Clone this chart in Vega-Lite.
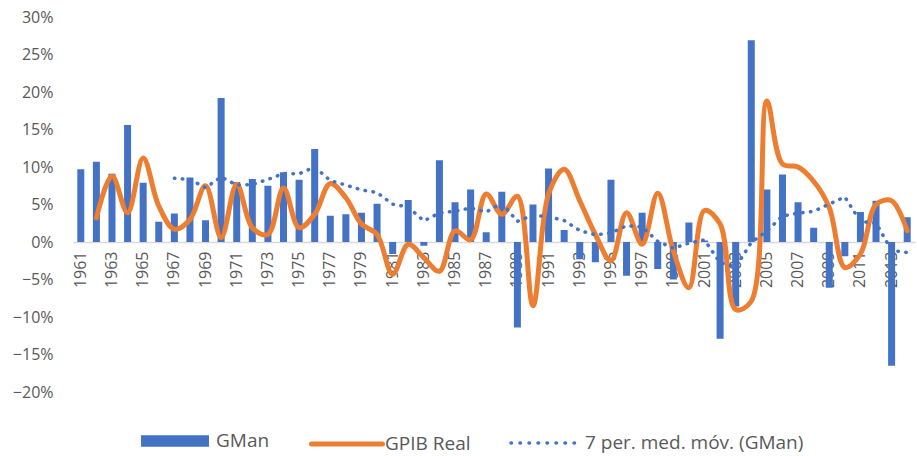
{
  "$schema": "https://vega.github.io/schema/vega-lite/v6.json",
  "width": 842,
  "height": 375,
  "autosize": {"type": "none"},
  "padding": {"left": 73, "top": 17, "right": 2, "bottom": 64},
  "background": "#ffffff",
  "config": {
    "view": {"stroke": null},
    "font": "Open Sans",
    "axis": {"labelFont": "Open Sans", "labelColor": "#595959", "labelFontSize": 16, "grid": false, "ticks": false, "title": null},
    "legend": {"labelFont": "Open Sans", "labelFontSize": 19, "labelColor": "#595959", "labelLimit": 400, "padding": 0, "orient": "none", "direction": "horizontal", "title": null}
  },
  "data": {
    "values": [
      {"year": 1961, "series": "GMan", "value": 0.097},
      {"year": 1962, "series": "GMan", "value": 0.107},
      {"year": 1963, "series": "GMan", "value": 0.091},
      {"year": 1964, "series": "GMan", "value": 0.156},
      {"year": 1965, "series": "GMan", "value": 0.079},
      {"year": 1966, "series": "GMan", "value": 0.027},
      {"year": 1967, "series": "GMan", "value": 0.038},
      {"year": 1968, "series": "GMan", "value": 0.086},
      {"year": 1969, "series": "GMan", "value": 0.029},
      {"year": 1970, "series": "GMan", "value": 0.192},
      {"year": 1971, "series": "GMan", "value": 0.080},
      {"year": 1972, "series": "GMan", "value": 0.084},
      {"year": 1973, "series": "GMan", "value": 0.075},
      {"year": 1974, "series": "GMan", "value": 0.093},
      {"year": 1975, "series": "GMan", "value": 0.083},
      {"year": 1976, "series": "GMan", "value": 0.124},
      {"year": 1977, "series": "GMan", "value": 0.035},
      {"year": 1978, "series": "GMan", "value": 0.037},
      {"year": 1979, "series": "GMan", "value": 0.039},
      {"year": 1980, "series": "GMan", "value": 0.051},
      {"year": 1981, "series": "GMan", "value": -0.016},
      {"year": 1982, "series": "GMan", "value": 0.056},
      {"year": 1983, "series": "GMan", "value": -0.005},
      {"year": 1984, "series": "GMan", "value": 0.109},
      {"year": 1985, "series": "GMan", "value": 0.053},
      {"year": 1986, "series": "GMan", "value": 0.070},
      {"year": 1987, "series": "GMan", "value": 0.013},
      {"year": 1988, "series": "GMan", "value": 0.067},
      {"year": 1989, "series": "GMan", "value": -0.114},
      {"year": 1990, "series": "GMan", "value": 0.050},
      {"year": 1991, "series": "GMan", "value": 0.098},
      {"year": 1992, "series": "GMan", "value": 0.016},
      {"year": 1993, "series": "GMan", "value": -0.023},
      {"year": 1994, "series": "GMan", "value": -0.027},
      {"year": 1995, "series": "GMan", "value": 0.083},
      {"year": 1996, "series": "GMan", "value": -0.045},
      {"year": 1997, "series": "GMan", "value": 0.039},
      {"year": 1998, "series": "GMan", "value": -0.036},
      {"year": 1999, "series": "GMan", "value": -0.050},
      {"year": 2000, "series": "GMan", "value": 0.026},
      {"year": 2001, "series": "GMan", "value": 0.002},
      {"year": 2002, "series": "GMan", "value": -0.129},
      {"year": 2003, "series": "GMan", "value": -0.086},
      {"year": 2004, "series": "GMan", "value": 0.269},
      {"year": 2005, "series": "GMan", "value": 0.070},
      {"year": 2006, "series": "GMan", "value": 0.090},
      {"year": 2007, "series": "GMan", "value": 0.053},
      {"year": 2008, "series": "GMan", "value": 0.019},
      {"year": 2009, "series": "GMan", "value": -0.061},
      {"year": 2010, "series": "GMan", "value": -0.019},
      {"year": 2011, "series": "GMan", "value": 0.040},
      {"year": 2012, "series": "GMan", "value": 0.055},
      {"year": 2013, "series": "GMan", "value": -0.165},
      {"year": 2014, "series": "GMan", "value": 0.033},
      {"year": 1962, "series": "GPIB Real", "value": 0.032},
      {"year": 1963, "series": "GPIB Real", "value": 0.088},
      {"year": 1964, "series": "GPIB Real", "value": 0.039},
      {"year": 1965, "series": "GPIB Real", "value": 0.112},
      {"year": 1966, "series": "GPIB Real", "value": 0.048},
      {"year": 1967, "series": "GPIB Real", "value": 0.017},
      {"year": 1968, "series": "GPIB Real", "value": 0.030},
      {"year": 1969, "series": "GPIB Real", "value": 0.075},
      {"year": 1970, "series": "GPIB Real", "value": 0.006},
      {"year": 1971, "series": "GPIB Real", "value": 0.077},
      {"year": 1972, "series": "GPIB Real", "value": 0.019},
      {"year": 1973, "series": "GPIB Real", "value": 0.010},
      {"year": 1974, "series": "GPIB Real", "value": 0.072},
      {"year": 1975, "series": "GPIB Real", "value": 0.019},
      {"year": 1976, "series": "GPIB Real", "value": 0.037},
      {"year": 1977, "series": "GPIB Real", "value": 0.078},
      {"year": 1978, "series": "GPIB Real", "value": 0.059},
      {"year": 1979, "series": "GPIB Real", "value": 0.024},
      {"year": 1980, "series": "GPIB Real", "value": 0.010},
      {"year": 1981, "series": "GPIB Real", "value": -0.043},
      {"year": 1982, "series": "GPIB Real", "value": -0.003},
      {"year": 1983, "series": "GPIB Real", "value": -0.021},
      {"year": 1984, "series": "GPIB Real", "value": -0.039},
      {"year": 1985, "series": "GPIB Real", "value": 0.015},
      {"year": 1986, "series": "GPIB Real", "value": 0.003},
      {"year": 1987, "series": "GPIB Real", "value": 0.064},
      {"year": 1988, "series": "GPIB Real", "value": 0.037},
      {"year": 1989, "series": "GPIB Real", "value": 0.061},
      {"year": 1990, "series": "GPIB Real", "value": -0.085},
      {"year": 1991, "series": "GPIB Real", "value": 0.064},
      {"year": 1992, "series": "GPIB Real", "value": 0.097},
      {"year": 1993, "series": "GPIB Real", "value": 0.055},
      {"year": 1994, "series": "GPIB Real", "value": 0.010},
      {"year": 1995, "series": "GPIB Real", "value": -0.025},
      {"year": 1996, "series": "GPIB Real", "value": 0.039},
      {"year": 1997, "series": "GPIB Real", "value": -0.003},
      {"year": 1998, "series": "GPIB Real", "value": 0.065},
      {"year": 1999, "series": "GPIB Real", "value": -0.012},
      {"year": 2000, "series": "GPIB Real", "value": -0.061},
      {"year": 2001, "series": "GPIB Real", "value": 0.042},
      {"year": 2002, "series": "GPIB Real", "value": 0.024},
      {"year": 2003, "series": "GPIB Real", "value": -0.090},
      {"year": 2004, "series": "GPIB Real", "value": -0.079},
      {"year": 2005, "series": "GPIB Real", "value": 0.188},
      {"year": 2006, "series": "GPIB Real", "value": 0.104},
      {"year": 2007, "series": "GPIB Real", "value": 0.100},
      {"year": 2008, "series": "GPIB Real", "value": 0.081},
      {"year": 2009, "series": "GPIB Real", "value": 0.046},
      {"year": 2010, "series": "GPIB Real", "value": -0.034},
      {"year": 2011, "series": "GPIB Real", "value": -0.016},
      {"year": 2012, "series": "GPIB Real", "value": 0.050},
      {"year": 2013, "series": "GPIB Real", "value": 0.055},
      {"year": 2014, "series": "GPIB Real", "value": 0.015},
      {"year": 1967, "series": "7 per. med. móv. (GMan)", "value": 0.0850},
      {"year": 1968, "series": "7 per. med. móv. (GMan)", "value": 0.0834},
      {"year": 1969, "series": "7 per. med. móv. (GMan)", "value": 0.0723},
      {"year": 1970, "series": "7 per. med. móv. (GMan)", "value": 0.0867},
      {"year": 1971, "series": "7 per. med. móv. (GMan)", "value": 0.0759},
      {"year": 1972, "series": "7 per. med. móv. (GMan)", "value": 0.0766},
      {"year": 1973, "series": "7 per. med. móv. (GMan)", "value": 0.0834},
      {"year": 1974, "series": "7 per. med. móv. (GMan)", "value": 0.0913},
      {"year": 1975, "series": "7 per. med. móv. (GMan)", "value": 0.0909},
      {"year": 1976, "series": "7 per. med. móv. (GMan)", "value": 0.1000},
      {"year": 1977, "series": "7 per. med. móv. (GMan)", "value": 0.0820},
      {"year": 1978, "series": "7 per. med. móv. (GMan)", "value": 0.0759},
      {"year": 1979, "series": "7 per. med. móv. (GMan)", "value": 0.0694},
      {"year": 1980, "series": "7 per. med. móv. (GMan)", "value": 0.0660},
      {"year": 1981, "series": "7 per. med. móv. (GMan)", "value": 0.0504},
      {"year": 1982, "series": "7 per. med. móv. (GMan)", "value": 0.0466},
      {"year": 1983, "series": "7 per. med. móv. (GMan)", "value": 0.0281},
      {"year": 1984, "series": "7 per. med. móv. (GMan)", "value": 0.0387},
      {"year": 1985, "series": "7 per. med. móv. (GMan)", "value": 0.0410},
      {"year": 1986, "series": "7 per. med. móv. (GMan)", "value": 0.0454},
      {"year": 1987, "series": "7 per. med. móv. (GMan)", "value": 0.0400},
      {"year": 1988, "series": "7 per. med. móv. (GMan)", "value": 0.0519},
      {"year": 1989, "series": "7 per. med. móv. (GMan)", "value": 0.0276},
      {"year": 1990, "series": "7 per. med. móv. (GMan)", "value": 0.0354},
      {"year": 1991, "series": "7 per. med. móv. (GMan)", "value": 0.0339},
      {"year": 1992, "series": "7 per. med. móv. (GMan)", "value": 0.0286},
      {"year": 1993, "series": "7 per. med. móv. (GMan)", "value": 0.0153},
      {"year": 1994, "series": "7 per. med. móv. (GMan)", "value": 0.0096},
      {"year": 1995, "series": "7 per. med. móv. (GMan)", "value": 0.0119},
      {"year": 1996, "series": "7 per. med. móv. (GMan)", "value": 0.0217},
      {"year": 1997, "series": "7 per. med. móv. (GMan)", "value": 0.0201},
      {"year": 1998, "series": "7 per. med. móv. (GMan)", "value": 0.0010},
      {"year": 1999, "series": "7 per. med. móv. (GMan)", "value": -0.0084},
      {"year": 2000, "series": "7 per. med. móv. (GMan)", "value": -0.0014},
      {"year": 2001, "series": "7 per. med. móv. (GMan)", "value": 0.0027},
      {"year": 2002, "series": "7 per. med. móv. (GMan)", "value": -0.0276},
      {"year": 2003, "series": "7 per. med. móv. (GMan)", "value": -0.0334},
      {"year": 2004, "series": "7 per. med. móv. (GMan)", "value": -0.0006},
      {"year": 2005, "series": "7 per. med. móv. (GMan)", "value": 0.0146},
      {"year": 2006, "series": "7 per. med. móv. (GMan)", "value": 0.0346},
      {"year": 2007, "series": "7 per. med. móv. (GMan)", "value": 0.0384},
      {"year": 2008, "series": "7 per. med. móv. (GMan)", "value": 0.0409},
      {"year": 2009, "series": "7 per. med. móv. (GMan)", "value": 0.0506},
      {"year": 2010, "series": "7 per. med. móv. (GMan)", "value": 0.0601},
      {"year": 2011, "series": "7 per. med. móv. (GMan)", "value": 0.0274},
      {"year": 2012, "series": "7 per. med. móv. (GMan)", "value": 0.0253},
      {"year": 2013, "series": "7 per. med. móv. (GMan)", "value": -0.0111},
      {"year": 2014, "series": "7 per. med. móv. (GMan)", "value": -0.0140}
    ]
  },
  "encoding": {
    "x": {
      "field": "year",
      "type": "ordinal",
      "scale": {"paddingInner": 0.55, "paddingOuter": 0.275},
      "axis": {
        "values": [1961,1963,1965,1967,1969,1971,1973,1975,1977,1979,1981,1983,1985,1987,1989,1991,1993,1995,1997,1999,2001,2003,2005,2007,2009,2011,2013],
        "labelAngle": -90,
        "labelPadding": 9,
        "offset": -150,
        "domainColor": "#d9d9d9",
        "domainWidth": 1.5
      }
    },
    "y": {
      "field": "value",
      "type": "quantitative",
      "scale": {"domain": [-0.2, 0.3], "nice": false, "zero": false},
      "axis": {
        "values": [-0.2,-0.15,-0.1,-0.05,0,0.05,0.1,0.15,0.2,0.25,0.3],
        "format": ".0%",
        "domain": false,
        "labelPadding": 20
      }
    }
  },
  "layer": [
    {
      "transform": [{"filter": "datum.series === 'GMan'"}],
      "mark": {"type": "bar"},
      "encoding": {
        "color": {
          "field": "series", "type": "nominal",
          "scale": {"range": ["#4472C4"]},
          "legend": {
            "legendX": 68, "legendY": 390,
            "symbolType": "M-1,-0.17H1V0.17H-1Z",
            "symbolSize": 4624,
            "symbolStrokeWidth": 0,
            "symbolOpacity": 1,
            "labelOffset": 7
          }
        }
      }
    },
    {
      "transform": [{"filter": "datum.series === 'GPIB Real'"}],
      "mark": {"type": "line", "interpolate": "catmull-rom", "strokeWidth": 5, "strokeCap": "round", "strokeJoin": "round"},
      "encoding": {
        "color": {
          "field": "series", "type": "nominal",
          "scale": {"range": ["#ED7D31"]},
          "legend": {
            "legendX": 236, "legendY": 389,
            "symbolType": "stroke",
            "symbolSize": 5041,
            "symbolStrokeWidth": 5,
            "labelOffset": 0,
            "encode": {"symbols": {"update": {"strokeCap": {"value": "round"}}}}
          }
        }
      }
    },
    {
      "transform": [{"filter": "datum.series === '7 per. med. móv. (GMan)'"}],
      "mark": {"type": "line", "strokeWidth": 3.5, "strokeDash": [0.5, 7.5], "strokeCap": "round"},
      "encoding": {
        "color": {
          "field": "series", "type": "nominal",
          "scale": {"range": ["#4472C4"]},
          "legend": {
            "legendX": 436, "legendY": 388,
            "symbolType": "stroke",
            "symbolSize": 5184,
            "symbolStrokeWidth": 3.5,
            "symbolDash": [0.5, 8.5],
            "labelOffset": 0,
            "encode": {"symbols": {"update": {"strokeCap": {"value": "round"}}}}
          }
        }
      }
    }
  ],
  "resolve": {"scale": {"color": "independent"}, "legend": {"color": "independent"}}
}
